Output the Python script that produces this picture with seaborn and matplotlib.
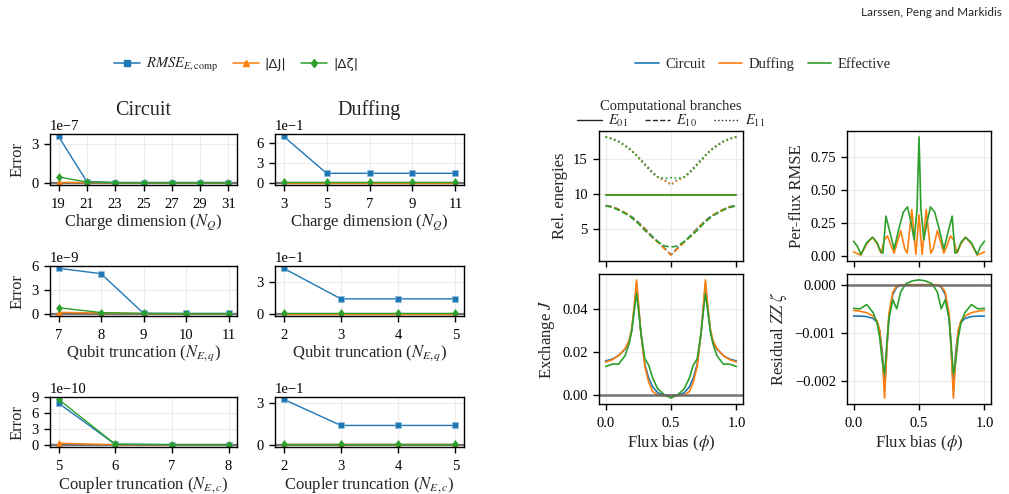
import numpy as np
import matplotlib
matplotlib.use('Agg')
import matplotlib.pyplot as plt
from matplotlib.ticker import MultipleLocator
from matplotlib.lines import Line2D
import seaborn as sns

sns.set_style('ticks')
plt.rcParams['font.family'] = ['Liberation Serif', 'DejaVu Serif']
plt.rcParams['mathtext.fontset'] = 'stix'
plt.rcParams['axes.edgecolor'] = 'black'
plt.rcParams['axes.linewidth'] = 1.0
plt.rcParams['xtick.color'] = 'black'
plt.rcParams['ytick.color'] = 'black'
plt.rcParams['xtick.major.size'] = 4.0
plt.rcParams['ytick.major.size'] = 4.0
plt.rcParams['xtick.major.pad'] = 5.5
plt.rcParams['ytick.major.pad'] = 4.0

C_BLUE, C_ORANGE, C_GREEN = sns.color_palette('tab10')[:3]

# ---- convergence data (left block) ----
charge_circ = [19, 21, 23, 25, 27, 29, 31]
charge_circ_rmse = [3.63e-7, 0.08e-7, 0.01e-7, 0.01e-7, 0.01e-7, 0.01e-7, 0.01e-7]
charge_circ_dj = [0.02e-7, 0.01e-7, 0.0, 0.0, 0.0, 0.0, 0.0]
charge_circ_dz = [0.45e-7, 0.05e-7, 0.0, 0.0, 0.0, 0.0, 0.0]

charge_duff = [3, 5, 7, 9, 11]
charge_duff_rmse = [0.70, 0.142, 0.142, 0.142, 0.142]
charge_duff_dj = [0.002, 0.002, 0.002, 0.002, 0.002]
charge_duff_dz = [0.004, 0.004, 0.004, 0.004, 0.004]

qubit_circ = [7, 8, 9, 10, 11]
qubit_circ_rmse = [5.75e-9, 5.07e-9, 0.05e-9, 0.03e-9, 0.03e-9]
qubit_circ_dj = [0.18e-9, 0.1e-9, 0.01e-9, 0.0, 0.0]
qubit_circ_dz = [0.76e-9, 0.15e-9, 0.04e-9, 0.01e-9, 0.01e-9]

qubit_duff = [2, 3, 4, 5]
qubit_duff_rmse = [0.428, 0.140, 0.140, 0.140]
qubit_duff_dj = [0.002, 0.002, 0.002, 0.002]
qubit_duff_dz = [0.004, 0.004, 0.004, 0.004]

coupler_circ = [5, 6, 7, 8]
coupler_circ_rmse = [7.87e-10, 0.08e-10, 0.02e-10, 0.02e-10]
coupler_circ_dj = [0.3e-10, 0.01e-10, 0.0, 0.0]
coupler_circ_dz = [8.6e-10, 0.1e-10, 0.02e-10, 0.02e-10]

coupler_duff = [2, 3, 4, 5]
coupler_duff_rmse = [0.330, 0.140, 0.140, 0.140]
coupler_duff_dj = [0.002, 0.002, 0.002, 0.002]
coupler_duff_dz = [0.004, 0.004, 0.004, 0.004]

# ---- flux sweep data (right block) ----
phi = [0.0, 0.05, 0.1, 0.15, 0.18, 0.2, 0.22, 0.237, 0.255, 0.27, 0.3, 0.33, 0.36, 0.4, 0.45, 0.5,
       0.55, 0.6, 0.64, 0.67, 0.7, 0.73, 0.745, 0.763, 0.78, 0.8, 0.82, 0.85, 0.9, 0.95, 1.0]

e01 = [9.8] * 31

e10_circ = [8.35, 8.2, 7.8, 7.3, 6.95, 6.75, 6.45, 6.2, 5.9, 5.6, 5.1, 4.5, 3.9, 3.2, 2.3, 1.35,
            2.3, 3.2, 3.9, 4.5, 5.1, 5.6, 5.9, 6.2, 6.45, 6.75, 6.95, 7.3, 7.8, 8.2, 8.35]
e10_duff = [8.3, 8.15, 7.8, 7.3, 7.0, 6.6, 6.4, 6.0, 5.8, 5.6, 5.0, 4.4, 3.8, 3.1, 2.2, 1.3,
            2.2, 3.1, 3.8, 4.4, 5.0, 5.6, 5.8, 6.0, 6.4, 6.6, 7.0, 7.3, 7.8, 8.15, 8.3]
e10_eff = [8.3, 8.1, 7.7, 7.2, 6.9, 6.6, 6.3, 6.0, 5.7, 5.4, 4.8, 4.3, 3.8, 3.2, 2.6, 2.45,
           2.6, 3.2, 3.8, 4.3, 4.8, 5.4, 5.7, 6.0, 6.3, 6.6, 6.9, 7.2, 7.7, 8.1, 8.3]

e11_circ = [18.1, 17.9, 17.5, 16.9, 16.5, 16.2, 15.8, 15.5, 15.2, 14.9, 14.3, 13.7, 13.1, 12.4, 12.0, 11.3,
            12.0, 12.4, 13.1, 13.7, 14.3, 14.9, 15.2, 15.5, 15.8, 16.2, 16.5, 16.9, 17.5, 17.9, 18.1]
e11_duff = [18.1, 17.85, 17.4, 16.9, 16.4, 16.2, 15.7, 15.5, 15.1, 14.8, 14.2, 13.6, 13.0, 12.3, 11.9, 11.3,
            11.9, 12.3, 13.0, 13.6, 14.2, 14.8, 15.1, 15.5, 15.7, 16.2, 16.4, 16.9, 17.4, 17.85, 18.1]
e11_eff = [18.1, 17.8, 17.4, 16.8, 16.4, 16.1, 15.7, 15.4, 15.0, 14.7, 14.1, 13.5, 12.9, 12.4, 12.2, 12.3,
           12.2, 12.4, 12.9, 13.5, 14.1, 14.7, 15.0, 15.4, 15.7, 16.1, 16.4, 16.8, 17.4, 17.8, 18.1]

j_circ = [0.0160, 0.0168, 0.0185, 0.0215, 0.025, 0.030, 0.040, 0.052, 0.039, 0.029, 0.0145, 0.008, 0.004, 0.0012, 0.0002, 0.0,
          0.0002, 0.0012, 0.004, 0.008, 0.0145, 0.029, 0.039, 0.052, 0.040, 0.030, 0.025, 0.0215, 0.0185, 0.0168, 0.0160]
j_duff = [0.0155, 0.0165, 0.0185, 0.0218, 0.0255, 0.031, 0.042, 0.0535, 0.040, 0.029, 0.0135, 0.006, 0.0018, 0.0002, -0.0001, -0.0001,
          -0.0001, 0.0002, 0.0018, 0.006, 0.0135, 0.029, 0.040, 0.0535, 0.042, 0.031, 0.0255, 0.0218, 0.0185, 0.0165, 0.0155]
j_eff = [0.0134, 0.0145, 0.0145, 0.0185, 0.024, 0.030, 0.040, 0.047, 0.038, 0.029, 0.017, 0.014, 0.008, 0.003, 0.0003, -0.0012,
         0.0003, 0.003, 0.008, 0.014, 0.017, 0.029, 0.038, 0.047, 0.040, 0.030, 0.024, 0.0185, 0.0145, 0.0145, 0.0134]

zz_circ = [-0.00065, -0.00065, -0.00066, -0.0007, -0.00078, -0.00095, -0.0014, -0.0022, -0.0013, -0.0007, -0.0002, -0.00005, -0.00001, 0.0, 0.0, 0.0,
           0.0, 0.0, -0.00001, -0.00005, -0.0002, -0.0007, -0.0013, -0.0022, -0.0014, -0.00095, -0.00078, -0.0007, -0.00066, -0.00065, -0.00065]
zz_duff = [-0.00053, -0.00055, -0.00058, -0.00065, -0.00075, -0.00095, -0.0015, -0.00235, -0.0013, -0.0006, -0.00015, -0.00003, 0.0, 0.0, 0.0, 0.0,
           0.0, 0.0, 0.0, -0.00003, -0.00015, -0.0006, -0.0013, -0.00235, -0.0015, -0.00095, -0.00075, -0.00065, -0.00058, -0.00055, -0.00053]
zz_eff = [-0.00049, -0.0005, -0.00041, -0.00058, -0.0008, -0.0011, -0.0016, -0.00185, -0.0012, -0.0007, -0.00031, -0.0005, -0.00015, 0.00002, 0.00008, 0.0001,
          0.00008, 0.00002, -0.00015, -0.0005, -0.00031, -0.0007, -0.0012, -0.00185, -0.0016, -0.0011, -0.0008, -0.00058, -0.00041, -0.0005, -0.00049]

phi_rmse = [0.0, 0.03, 0.056, 0.1, 0.145, 0.18, 0.205, 0.225, 0.247, 0.28, 0.31, 0.345, 0.38, 0.412, 0.44, 0.463, 0.485, 0.5,
            0.515, 0.537, 0.56, 0.588, 0.62, 0.655, 0.69, 0.72, 0.753, 0.775, 0.795, 0.82, 0.855, 0.9, 0.944, 0.97, 1.0]
rmse_eff = [0.11, 0.07, 0.01, 0.10, 0.14, 0.10, 0.035, 0.02, 0.30, 0.17, 0.05, 0.20, 0.33, 0.37, 0.25, 0.12, 0.35, 0.90,
            0.35, 0.12, 0.25, 0.37, 0.33, 0.20, 0.05, 0.17, 0.30, 0.02, 0.035, 0.10, 0.14, 0.10, 0.01, 0.07, 0.11]
phi_rmse_d = [0.0, 0.03, 0.056, 0.1, 0.145, 0.18, 0.21, 0.235, 0.26, 0.285, 0.31, 0.36, 0.392, 0.41, 0.445, 0.476, 0.5,
              0.524, 0.555, 0.59, 0.608, 0.64, 0.69, 0.715, 0.74, 0.765, 0.79, 0.82, 0.855, 0.9, 0.944, 0.97, 1.0]
rmse_duff = [0.03, 0.015, 0.005, 0.09, 0.14, 0.09, 0.02, 0.12, 0.15, 0.08, 0.02, 0.19, 0.05, 0.02, 0.35, 0.01, 0.31,
             0.01, 0.35, 0.02, 0.05, 0.19, 0.02, 0.08, 0.15, 0.12, 0.02, 0.09, 0.14, 0.09, 0.005, 0.015, 0.03]

W, H = 1009, 494
fig = plt.figure(figsize=(W / 100, H / 100), dpi=100)


def px_axes(x0, y0, x1, y1):
    return fig.add_axes([x0 / W, 1 - y1 / H, (x1 - x0) / W, (y1 - y0) / H])


def style_ax(ax):
    ax.grid(True, color='#ececec', lw=0.8)
    ax.set_axisbelow(True)
    ax.tick_params(labelsize=10.5, width=1.0)
    for s in ax.spines.values():
        s.set_visible(True)
        s.set_color('black')


def conv_panel(ax, x, rmse, dj, dz, step, xlabel, ylabel=None):
    ax.axhline(0, color='0.45', lw=1.6, zorder=1)
    sns.lineplot(x=x, y=rmse, ax=ax, color=C_BLUE, marker='s', markersize=4.3, lw=1.0, mec='#8fbfe0', mew=0.4)
    sns.lineplot(x=x, y=dj, ax=ax, color=C_ORANGE, marker='^', markersize=4.5, lw=1.0, mec=C_ORANGE, mew=0.4)
    sns.lineplot(x=x, y=dz, ax=ax, color=C_GREEN, marker='d', markersize=4.5, lw=1.0, mec=C_GREEN, mew=0.4)
    ax.set_xticks(x)
    ax.yaxis.set_major_locator(MultipleLocator(step))
    ax.ticklabel_format(axis='y', style='sci', scilimits=(0, 0))
    ax.yaxis.get_offset_text().set_fontsize(10.5)
    ax.set_xlabel(xlabel, fontsize=12, labelpad=1)
    ax.set_ylabel(ylabel if ylabel else '', fontsize=12)
    style_ax(ax)


rows = [(134, 185), (266, 316), (397, 447)]
circ_x = (50, 237)
duff_x = (275, 464)

ax = px_axes(circ_x[0], rows[0][0], circ_x[1], rows[0][1])
conv_panel(ax, charge_circ, charge_circ_rmse, charge_circ_dj, charge_circ_dz, 3e-7, r'Charge dimension ($N_Q$)', 'Error')
ax.set_title('Circuit', fontsize=14.5, pad=14)
ax = px_axes(duff_x[0], rows[0][0], duff_x[1], rows[0][1])
conv_panel(ax, charge_duff, charge_duff_rmse, charge_duff_dj, charge_duff_dz, 0.3, r'Charge dimension ($N_Q$)')
ax.set_title('Duffing', fontsize=14.5, pad=14)

ax = px_axes(circ_x[0], rows[1][0], circ_x[1], rows[1][1])
conv_panel(ax, qubit_circ, qubit_circ_rmse, qubit_circ_dj, qubit_circ_dz, 3e-9, r'Qubit truncation ($N_{E,q}$)', 'Error')
ax = px_axes(duff_x[0], rows[1][0], duff_x[1], rows[1][1])
conv_panel(ax, qubit_duff, qubit_duff_rmse, qubit_duff_dj, qubit_duff_dz, 0.3, r'Qubit truncation ($N_{E,q}$)')

ax = px_axes(circ_x[0], rows[2][0], circ_x[1], rows[2][1])
conv_panel(ax, coupler_circ, coupler_circ_rmse, coupler_circ_dj, coupler_circ_dz, 3e-10, r'Coupler truncation ($N_{E,c}$)', 'Error')
ax = px_axes(duff_x[0], rows[2][0], duff_x[1], rows[2][1])
conv_panel(ax, coupler_duff, coupler_duff_rmse, coupler_duff_dj, coupler_duff_dz, 0.3, r'Coupler truncation ($N_{E,c}$)')

left_handles = [
    Line2D([], [], color=C_BLUE, marker='s', markersize=4.5, lw=1.1),
    Line2D([], [], color=C_ORANGE, marker='^', markersize=4.5, lw=1.1),
    Line2D([], [], color=C_GREEN, marker='d', markersize=4.5, lw=1.1),
]
leg = fig.legend(left_handles, [r'$RMSE_{E,\mathrm{comp}}$', '|ΔJ|', '|Δζ|'], loc='center',
                 bbox_to_anchor=(236 / W, 1 - 65 / H), ncol=3, frameon=False, fontsize=10.5,
                 handlelength=1.8, columnspacing=1.0, handletextpad=0.4)
for t in leg.get_texts()[1:]:
    t.set_family('DejaVu Sans')
    t.set_fontsize(9.5)

# ---- right block ----
LW = 1.2
ax_e = px_axes(599, 131, 743, 261)
for col, e10, e11 in [(C_BLUE, e10_circ, e11_circ), (C_ORANGE, e10_duff, e11_duff), (C_GREEN, e10_eff, e11_eff)]:
    sns.lineplot(x=phi, y=e01, ax=ax_e, color=col, lw=LW, ls='-')
    sns.lineplot(x=phi, y=e10, ax=ax_e, color=col, lw=LW, ls='--', dashes=(3.5, 1.8))
    sns.lineplot(x=phi, y=e11, ax=ax_e, color=col, lw=LW, ls=':')
ax_e.yaxis.set_major_locator(MultipleLocator(5))
ax_e.set_xticks([0, 0.5, 1.0])
ax_e.set_xticklabels([])
ax_e.set_ylabel('Rel. energies', fontsize=12)
style_ax(ax_e)
br_handles = [Line2D([], [], color='0.15', lw=1.0, ls=s) for s in ['-', '--', ':']]
ax_e.legend(br_handles, [r'$E_{01}$', r'$E_{10}$', r'$E_{11}$'], title='Computational branches',
            title_fontsize=10.5, fontsize=10.5, loc='lower center', bbox_to_anchor=(0.5, 0.99),
            ncol=3, frameon=False, handlelength=1.7, columnspacing=1.2, handletextpad=0.4,
            borderpad=0.1, borderaxespad=0.1, labelspacing=0.05)

ax_r = px_axes(847, 131, 991, 261)
sns.lineplot(x=phi_rmse_d, y=rmse_duff, ax=ax_r, color=C_ORANGE, lw=LW)
sns.lineplot(x=phi_rmse, y=rmse_eff, ax=ax_r, color=C_GREEN, lw=LW)
ax_r.yaxis.set_major_locator(MultipleLocator(0.25))
ax_r.set_xticks([0, 0.5, 1.0])
ax_r.set_xticklabels([])
ax_r.set_ylabel('Per-flux RMSE', fontsize=12)
style_ax(ax_r)

ax_j = px_axes(599, 274, 743, 404)
sns.lineplot(x=phi, y=j_circ, ax=ax_j, color=C_BLUE, lw=LW)
sns.lineplot(x=phi, y=j_duff, ax=ax_j, color=C_ORANGE, lw=LW)
sns.lineplot(x=phi, y=j_eff, ax=ax_j, color=C_GREEN, lw=LW)
ax_j.axhline(0, color='0.4', lw=1.8, zorder=2.5, alpha=0.9)
ax_j.yaxis.set_major_locator(MultipleLocator(0.02))
ax_j.set_xticks([0, 0.5, 1.0])
ax_j.set_xlabel(r'Flux bias ($\phi$)', fontsize=12, labelpad=2)
ax_j.set_ylabel(r'Exchange $J$', fontsize=12)
style_ax(ax_j)

ax_z = px_axes(847, 274, 991, 404)
sns.lineplot(x=phi, y=zz_circ, ax=ax_z, color=C_BLUE, lw=LW)
sns.lineplot(x=phi, y=zz_duff, ax=ax_z, color=C_ORANGE, lw=LW)
sns.lineplot(x=phi, y=zz_eff, ax=ax_z, color=C_GREEN, lw=LW)
ax_z.axhline(0, color='0.4', lw=1.8, zorder=2.5, alpha=0.9)
ax_z.yaxis.set_major_locator(MultipleLocator(0.001))
ax_z.set_xticks([0, 0.5, 1.0])
ax_z.set_xlabel(r'Flux bias ($\phi$)', fontsize=12, labelpad=2)
ax_z.set_ylabel(r'Residual $ZZ\ \zeta$', fontsize=12)
style_ax(ax_z)

right_handles = [Line2D([], [], color=c, lw=1.2) for c in (C_BLUE, C_ORANGE, C_GREEN)]
fig.legend(right_handles, ['Circuit', 'Duffing', 'Effective'], loc='center',
           bbox_to_anchor=(763 / W, 1 - 64 / H), ncol=3, frameon=False, fontsize=10.5,
           handlelength=1.6, columnspacing=0.9, handletextpad=0.45)

fig.text(1002 / W, 1 - 13 / H, 'Larssen, Peng and Markidis', ha='right', va='center',
         fontsize=8.5, family='Lato')

fig.savefig('out.png', dpi=100)
